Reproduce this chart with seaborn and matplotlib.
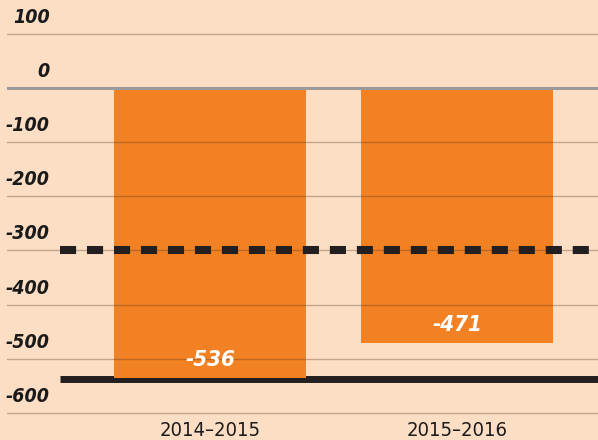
import seaborn as sns
import matplotlib.pyplot as plt
import pandas as pd

# data
seasons = ['2014\u20132015', '2015\u20132016']
values = [-536, -471]
target = -300      # dashed reference
floor = -537       # solid reference
yticks = [100, 0, -100, -200, -300, -400, -500, -600]

bg = '#FCDEC4'
orange = '#F28123'

sns.set_style('white')
plt.rcParams['font.family'] = ['DejaVu Sans']
plt.rcParams['font.stretch'] = 'condensed'

fig = plt.figure(figsize=(5.98, 4.4), dpi=100, facecolor=bg)
ax = fig.add_axes([7 / 598, 24.3 / 440, 1 - 7 / 598, 415.7 / 440])
ax.set_facecolor(bg)

df = pd.DataFrame({'season': seasons, 'value': values})
sns.barplot(data=df, x='season', y='value', color=orange, saturation=1,
            width=0.777, linewidth=0, ax=ax, zorder=2)

ax.set_xlim(-0.822, 1.571)
ax.set_ylim(-605, 162)

# reference lines
ax.hlines(floor, -0.607, 1.6, color='#231F20', lw=5, zorder=1)
ax.hlines(target, -0.607, 1.6, color='#231F20', lw=5.8,
          linestyles=(0, (2, 1.35)), zorder=4, capstyle='butt')

# grid
for t in yticks:
    if t == 0:
        ax.axhline(t, color='#9A9A9A', lw=2.2, zorder=3)
    else:
        ax.axhline(t, color='#5A3A20', alpha=0.35, lw=1, zorder=3, clip_on=False)
    ax.annotate(str(t), (0, t), xycoords=('axes fraction', 'data'),
                xytext=(31, 5), textcoords='offset points', ha='right',
                va='bottom', fontsize=14, fontweight='bold', style='italic',
                fontstretch='condensed', color='#1a1a1a', zorder=5)

# bar labels
for i, v in enumerate(values):
    ax.annotate(str(v), (i, v), xytext=(0, 6), textcoords='offset points',
                ha='center', va='bottom', fontsize=16, fontweight='bold',
                style='italic', fontstretch='condensed', color='white', zorder=5)

ax.set_xlabel('')
ax.set_ylabel('')
ax.set_yticks([])
ax.tick_params(axis='x', length=0, pad=4, labelsize=14.5, labelcolor='#1a1a1a')
for lbl in ax.get_xticklabels():
    lbl.set_fontstretch('condensed')
sns.despine(ax=ax, left=True, bottom=True, top=True, right=True)

plt.savefig('out.png', dpi=100, facecolor=bg)
